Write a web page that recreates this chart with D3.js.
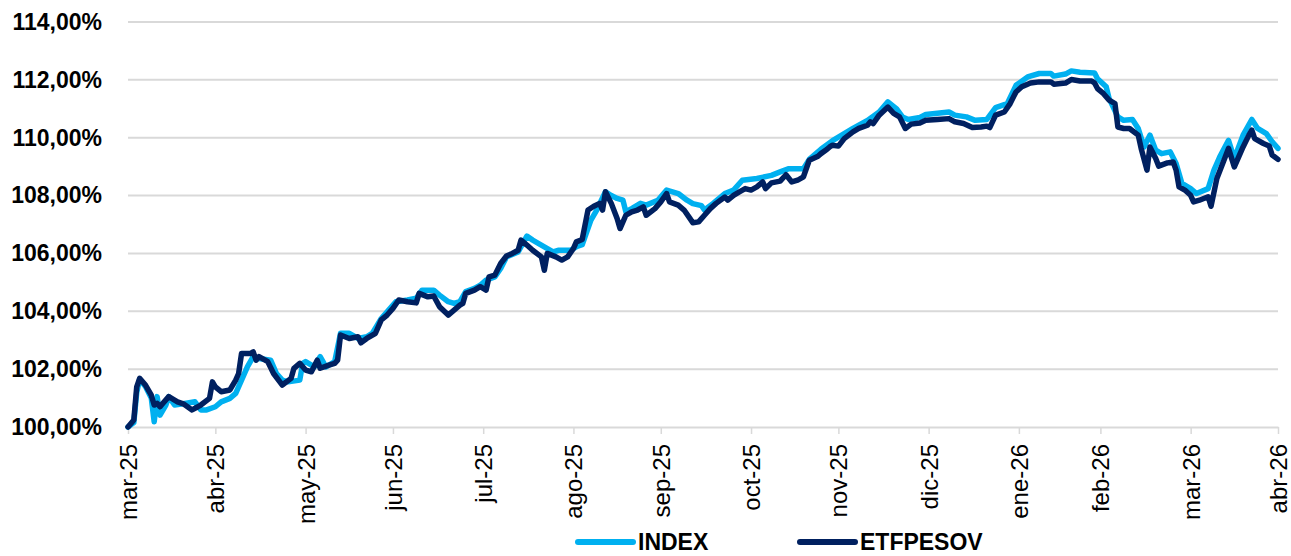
<!DOCTYPE html>
<html>
<head>
<meta charset="utf-8">
<script src="https://cdn.jsdelivr.net/npm/d3@7"></script>
<style>
  body { margin: 0; background: #fff; }
  svg { display: block; font-family: "Liberation Sans", Arial, sans-serif; }
</style>
</head>
<body>
<svg width="1291" height="556"></svg>
<script>
// month-end dates used as axis ticks, with their labels
var tickDates = ["2025-03-31","2025-04-30","2025-05-31","2025-06-30","2025-07-31","2025-08-31","2025-09-30",
  "2025-10-31","2025-11-30","2025-12-31","2026-01-31","2026-02-28","2026-03-31","2026-04-30"];
var tickLabels = ["mar-25","abr-25","may-25","jun-25","jul-25","ago-25","sep-25",
  "oct-25","nov-25","dic-25","ene-26","feb-26","mar-26","abr-26"];
var yTicks = [100, 102, 104, 106, 108, 110, 112, 114];

var seriesNames = ["INDEX", "ETFPESOV"];

var indexSeries = [
  ["2025-03-31",100.00],["2025-04-02",100.15],["2025-04-03",101.20],["2025-04-04",101.65],["2025-04-06",101.40],
  ["2025-04-08",101.00],["2025-04-09",100.18],["2025-04-10",101.05],["2025-04-11",100.41],["2025-04-13",100.76],
  ["2025-04-14",101.05],["2025-04-16",100.76],["2025-04-20",100.82],["2025-04-23",100.87],["2025-04-25",100.59],
  ["2025-04-27",100.59],["2025-04-30",100.70],["2025-05-02",100.87],["2025-05-05",100.99],["2025-05-07",101.16],
  ["2025-05-09",101.62],["2025-05-11",102.08],["2025-05-13",102.43],["2025-05-15",102.37],["2025-05-19",102.31],
  ["2025-05-21",101.85],["2025-05-23",101.62],["2025-05-25",101.56],["2025-05-29",101.62],["2025-05-30",102.20],
  ["2025-05-31",102.26],["2025-06-03",102.08],["2025-06-05",102.43],["2025-06-07",102.08],["2025-06-10",102.26],
  ["2025-06-12",103.24],["2025-06-15",103.24],["2025-06-18",103.06],["2025-06-21",103.12],["2025-06-23",103.25],
  ["2025-06-26",103.75],["2025-06-28",103.98],["2025-07-01",104.33],["2025-07-05",104.39],["2025-07-08",104.45],
  ["2025-07-10",104.73],["2025-07-14",104.73],["2025-07-16",104.56],["2025-07-19",104.33],["2025-07-21",104.27],
  ["2025-07-23",104.33],["2025-07-25",104.68],["2025-07-28",104.79],["2025-07-30",104.90],["2025-08-01",105.08],
  ["2025-08-04",105.19],["2025-08-06",105.48],["2025-08-08",105.88],["2025-08-12",106.05],["2025-08-15",106.60],
  ["2025-08-17",106.46],["2025-08-21",106.23],["2025-08-24",106.05],["2025-08-26",106.11],["2025-08-30",106.11],
  ["2025-09-01",106.23],["2025-09-03",106.30],["2025-09-06",107.15],["2025-09-08",107.50],["2025-09-11",108.13],
  ["2025-09-13",108.00],["2025-09-15",107.90],["2025-09-17",107.84],["2025-09-18",107.44],["2025-09-20",107.55],
  ["2025-09-23",107.73],["2025-09-25",107.67],["2025-09-29",107.84],["2025-10-02",108.19],["2025-10-06",108.07],
  ["2025-10-09",107.84],["2025-10-11",107.72],["2025-10-14",107.65],["2025-10-15",107.50],["2025-10-18",107.73],
  ["2025-10-22",108.07],["2025-10-25",108.19],["2025-10-28",108.53],["2025-11-02",108.59],["2025-11-07",108.70],
  ["2025-11-10",108.82],["2025-11-13",108.93],["2025-11-18",108.93],["2025-11-20",109.25],["2025-11-24",109.60],
  ["2025-11-28",109.90],["2025-12-05",110.32],["2025-12-10",110.60],["2025-12-14",110.89],["2025-12-17",111.24],
  ["2025-12-20",111.00],["2025-12-22",110.72],["2025-12-24",110.63],["2025-12-28",110.70],["2025-12-30",110.80],
  ["2026-01-07",110.89],["2026-01-09",110.78],["2026-01-13",110.72],["2026-01-16",110.60],["2026-01-20",110.63],
  ["2026-01-23",111.04],["2026-01-27",111.18],["2026-01-30",111.81],["2026-02-03",112.10],["2026-02-07",112.22],
  ["2026-02-11",112.22],["2026-02-12",112.13],["2026-02-16",112.20],["2026-02-18",112.31],["2026-02-21",112.26],
  ["2026-02-26",112.24],["2026-02-27",112.04],["2026-03-02",111.76],["2026-03-03",111.35],["2026-03-06",110.72],
  ["2026-03-08",110.60],["2026-03-11",110.63],["2026-03-13",110.32],["2026-03-15",109.68],["2026-03-17",110.09],
  ["2026-03-19",109.57],["2026-03-21",109.45],["2026-03-24",109.51],["2026-03-26",109.11],["2026-03-28",108.42],
  ["2026-03-31",108.24],["2026-04-02",108.07],["2026-04-06",108.24],["2026-04-08",108.88],["2026-04-10",109.34],
  ["2026-04-13",109.91],["2026-04-15",109.28],["2026-04-18",110.09],["2026-04-21",110.63],["2026-04-23",110.32],
  ["2026-04-26",110.14],["2026-04-28",109.86],["2026-04-30",109.63]
];

var etfSeries = [
  ["2025-03-31",100.00],["2025-04-02",100.24],["2025-04-03",101.39],["2025-04-04",101.68],["2025-04-06",101.45],
  ["2025-04-08",101.10],["2025-04-09",100.76],["2025-04-10",100.82],["2025-04-11",100.70],["2025-04-12",100.82],
  ["2025-04-14",101.05],["2025-04-17",100.87],["2025-04-19",100.80],["2025-04-22",100.59],["2025-04-24",100.70],
  ["2025-04-25",100.76],["2025-04-28",100.99],["2025-04-29",101.56],["2025-04-30",101.39],["2025-05-02",101.22],
  ["2025-05-05",101.28],["2025-05-07",101.62],["2025-05-08",101.85],["2025-05-09",102.54],["2025-05-12",102.54],
  ["2025-05-13",102.60],["2025-05-14",102.31],["2025-05-15",102.43],["2025-05-18",102.26],["2025-05-20",101.85],
  ["2025-05-23",101.45],["2025-05-26",101.68],["2025-05-27",102.03],["2025-05-29",102.20],["2025-05-31",101.97],
  ["2025-06-02",101.91],["2025-06-04",102.31],["2025-06-05",102.03],["2025-06-08",102.14],["2025-06-10",102.20],
  ["2025-06-11",102.31],["2025-06-12",103.18],["2025-06-15",103.06],["2025-06-18",103.12],["2025-06-19",102.91],
  ["2025-06-21",103.06],["2025-06-24",103.24],["2025-06-26",103.70],["2025-06-28",103.87],["2025-06-30",104.10],
  ["2025-07-02",104.39],["2025-07-05",104.33],["2025-07-08",104.29],["2025-07-09",104.62],["2025-07-12",104.50],
  ["2025-07-14",104.53],["2025-07-16",104.16],["2025-07-19",103.87],["2025-07-21",104.04],["2025-07-23",104.21],
  ["2025-07-24",104.27],["2025-07-25",104.62],["2025-07-28",104.73],["2025-07-30",104.85],["2025-08-01",104.73],
  ["2025-08-02",105.19],["2025-08-04",105.25],["2025-08-06",105.65],["2025-08-08",105.91],["2025-08-10",106.00],
  ["2025-08-12",106.11],["2025-08-13",106.46],["2025-08-15",106.29],["2025-08-17",106.11],["2025-08-20",105.88],
  ["2025-08-21",105.42],["2025-08-22",106.00],["2025-08-25",105.88],["2025-08-27",105.77],["2025-08-29",105.88],
  ["2025-08-31",106.17],["2025-09-01",106.40],["2025-09-03",106.48],["2025-09-05",107.50],["2025-09-07",107.63],
  ["2025-09-09",107.73],["2025-09-10",107.50],["2025-09-11",108.13],["2025-09-13",107.73],["2025-09-15",107.21],
  ["2025-09-16",106.86],["2025-09-18",107.32],["2025-09-20",107.44],["2025-09-22",107.50],["2025-09-24",107.61],
  ["2025-09-25",107.32],["2025-09-28",107.55],["2025-09-30",107.78],["2025-10-02",108.07],["2025-10-03",107.78],
  ["2025-10-06",107.67],["2025-10-08",107.50],["2025-10-10",107.21],["2025-10-11",107.06],["2025-10-13",107.09],
  ["2025-10-15",107.32],["2025-10-17",107.55],["2025-10-19",107.73],["2025-10-22",107.95],["2025-10-23",107.84],
  ["2025-10-25",108.01],["2025-10-27",108.13],["2025-10-29",108.24],["2025-10-31",108.19],["2025-11-02",108.30],
  ["2025-11-04",108.47],["2025-11-05",108.24],["2025-11-07",108.44],["2025-11-10",108.50],["2025-11-12",108.72],
  ["2025-11-14",108.47],["2025-11-16",108.53],["2025-11-18",108.65],["2025-11-20",109.22],["2025-11-23",109.36],
  ["2025-11-24",109.45],["2025-11-26",109.59],["2025-11-27",109.68],["2025-11-28",109.74],["2025-11-30",109.71],
  ["2025-12-02",109.97],["2025-12-05",110.20],["2025-12-07",110.32],["2025-12-10",110.43],["2025-12-11",110.55],
  ["2025-12-12",110.49],["2025-12-14",110.78],["2025-12-17",111.06],["2025-12-19",110.84],["2025-12-21",110.72],
  ["2025-12-23",110.32],["2025-12-25",110.47],["2025-12-28",110.51],["2025-12-30",110.60],["2026-01-03",110.63],
  ["2026-01-07",110.66],["2026-01-09",110.55],["2026-01-12",110.49],["2026-01-15",110.35],["2026-01-18",110.37],
  ["2026-01-20",110.40],["2026-01-21",110.35],["2026-01-23",110.78],["2026-01-26",110.89],["2026-01-28",111.18],
  ["2026-01-30",111.58],["2026-02-01",111.76],["2026-02-03",111.85],["2026-02-04",111.89],["2026-02-07",111.93],
  ["2026-02-11",111.93],["2026-02-12",111.85],["2026-02-16",111.89],["2026-02-18",112.01],["2026-02-21",111.96],
  ["2026-02-25",111.96],["2026-02-26",111.89],["2026-02-27",111.70],["2026-03-01",111.53],["2026-03-03",111.30],
  ["2026-03-05",111.18],["2026-03-06",110.37],["2026-03-08",110.32],["2026-03-10",110.32],["2026-03-13",110.09],
  ["2026-03-14",109.63],["2026-03-16",108.88],["2026-03-17",109.68],["2026-03-19",109.28],["2026-03-20",109.02],
  ["2026-03-23",109.13],["2026-03-25",109.16],["2026-03-26",108.88],["2026-03-27",108.30],["2026-03-29",108.19],
  ["2026-03-31",108.01],["2026-04-01",107.78],["2026-04-03",107.84],["2026-04-06",107.96],["2026-04-07",107.63],
  ["2026-04-09",108.59],["2026-04-11",109.11],["2026-04-13",109.63],["2026-04-15",108.99],["2026-04-18",109.68],
  ["2026-04-20",110.09],["2026-04-21",110.26],["2026-04-22",109.97],["2026-04-25",109.80],["2026-04-27",109.71],
  ["2026-04-28",109.40],["2026-04-30",109.25]
];

var colors = ["#00b0f0", "#002060"];

var svg = d3.select("svg");
var margin = {top: 22, right: 13, bottom: 129, left: 128};
var width = +svg.attr("width") - margin.left - margin.right;
var height = +svg.attr("height") - margin.top - margin.bottom;
var g = svg.append("g").attr("transform", "translate(" + margin.left + "," + margin.top + ")");

var parseDate = d3.timeParse("%Y-%m-%d");
var ticks = tickDates.map(parseDate);
var locale = d3.formatLocale({decimal: ",", thousands: ".", grouping: [3], currency: ["", "%"]});
var pct = locale.format(".2f");

var x = d3.scaleTime()
    .domain([ticks[0], ticks[ticks.length - 1]])
    .range([0, width]);

var y = d3.scaleLinear()
    .domain([100, 114])
    .range([height, 0]);

// gridlines
g.append("g")
  .selectAll("line")
  .data(yTicks.slice(1))
  .enter().append("line")
  .attr("x1", 0)
  .attr("x2", width)
  .attr("y1", function(d) { return y(d); })
  .attr("y2", function(d) { return y(d); })
  .attr("stroke", "#d9d9d9")
  .attr("stroke-width", 2);

// y labels
g.append("g")
  .call(d3.axisLeft(y).tickValues(yTicks).tickSize(0).tickPadding(26)
    .tickFormat(function(d) { return pct(d) + "%"; }))
  .call(function(s) { s.select(".domain").remove(); })
  .selectAll("text")
  .attr("font-size", 23)
  .attr("font-weight", "bold")
  .attr("font-family", "'Liberation Sans', Arial, sans-serif")
  .attr("fill", "#000");

// x axis
var xAxis = g.append("g")
  .attr("transform", "translate(0," + height + ")")
  .call(d3.axisBottom(x).tickValues(ticks).tickSize(7).tickSizeOuter(0)
    .tickFormat(function(d, i) { return tickLabels[i]; }));
xAxis.select(".domain").attr("stroke", "#d9d9d9").attr("stroke-width", 2);
xAxis.selectAll(".tick line").attr("stroke", "#d9d9d9").attr("stroke-width", 1.5);
xAxis.selectAll("text")
  .attr("font-size", 24)
  .attr("font-family", "'Liberation Sans', Arial, sans-serif")
  .attr("fill", "#000")
  .attr("transform", "rotate(-90)")
  .attr("text-anchor", "end")
  .attr("x", -17)
  .attr("y", 0)
  .attr("dy", "0.35em");

var line = d3.line()
  .x(function(d) { return x(parseDate(d[0])); })
  .y(function(d) { return y(d[1]); });

[indexSeries, etfSeries].forEach(function(s, i) {
  g.append("path")
    .datum(s)
    .attr("fill", "none")
    .attr("stroke", colors[i])
    .attr("stroke-width", 5.5)
    .attr("stroke-linejoin", "round")
    .attr("stroke-linecap", "round")
    .attr("d", line);
});

// legend
var legend = svg.append("g").attr("transform", "translate(0,542)");
var legendX = [578, 800];
seriesNames.forEach(function(name, i) {
  legend.append("line")
    .attr("x1", legendX[i]).attr("x2", legendX[i] + 55)
    .attr("y1", 0).attr("y2", 0)
    .attr("stroke", colors[i])
    .attr("stroke-width", 6)
    .attr("stroke-linecap", "round");
  legend.append("text")
    .attr("x", legendX[i] + 60)
    .attr("y", 8)
    .attr("font-size", 23)
    .attr("font-weight", "bold")
    .attr("fill", "#000")
    .text(name);
});
</script>
</body>
</html>
